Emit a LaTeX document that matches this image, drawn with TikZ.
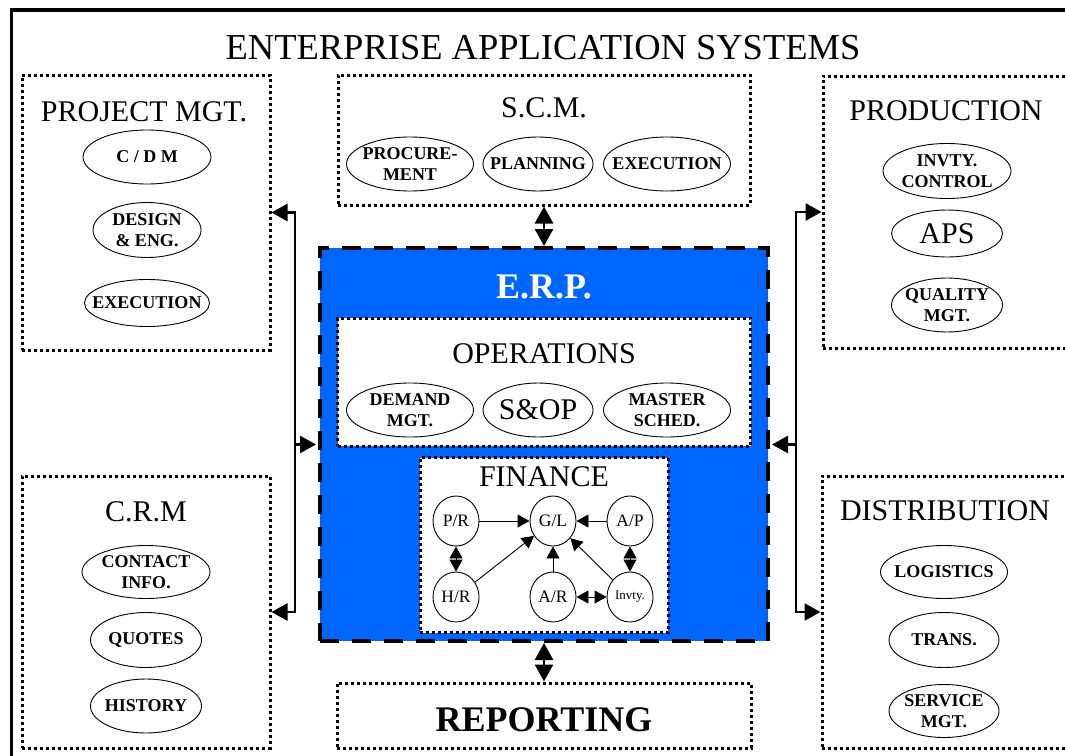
\documentclass[tikz,border=0pt]{standalone}
\usepackage{fontspec}
\setmainfont{Liberation Serif}
\usetikzlibrary{shapes.geometric,arrows.meta}
\definecolor{erpblue}{RGB}{0,102,255}

\begin{document}
\begin{tikzpicture}[x=1pt,y=-1pt,
  dotbox/.style={draw, line width=3pt, dash pattern=on 3pt off 3pt, fill=white, inner sep=0pt},
  erpbox/.style={draw, line width=4pt, dash pattern=on 19pt off 13pt, fill=erpblue, inner sep=0pt},
  % the ellipse size is fixed by minimum width/height; the negative inner sep
  % keeps the text from enlarging it
  oval/.style={ellipse, draw, line width=0.9pt, inner xsep=-90pt, inner ysep=-40pt, align=center,
    font=\fontsize{18}{20.5}\selectfont\bfseries},
  bigoval/.style={oval, font=\fontsize{30}{32}\selectfont},
  fcirc/.style={ellipse, draw, line width=0.9pt, inner xsep=-40pt, inner ysep=-30pt,
    minimum width=46pt, minimum height=50pt, font=\fontsize{17.5}{20}\selectfont},
  heading/.style={anchor=base, inner sep=0pt, font=\fontsize{30}{34}\selectfont},
  conn/.style={line width=2.6pt},
  bigtip/.tip={Triangle[length=16pt,width=17pt]},
  midtip/.tip={Triangle[length=17pt,width=18pt]},
  smalltip/.tip={Triangle[length=12pt,width=13pt]},
  farr/.style={line width=0.9pt, -smalltip},
  fdbl/.style={line width=0.9pt, smalltip-smalltip}
]
\useasboundingbox (0,0) rectangle (1065,755);
\clip (0,0) rectangle (1065,755);

% outer frame
\draw[line width=3.5pt] (11.7,10) rectangle (1085,775);
\node[anchor=base, inner sep=0pt, font=\fontsize{36.5}{40}\selectfont] (title) at (543,59)
  {ENTERPRISE APPLICATION SYSTEMS};

% surrounding application boxes
\node[dotbox, minimum width=248pt, minimum height=275pt] (pm)   at (146,212.5) {};
\node[dotbox, minimum width=248pt, minimum height=272pt] (crm)  at (146,612) {};
\node[dotbox, minimum width=412pt, minimum height=130pt] (scm)  at (544,140) {};
\node[dotbox, minimum width=270pt, minimum height=272pt] (prod) at (958,212) {};
\node[dotbox, minimum width=270pt, minimum height=272pt] (dist) at (957,612) {};
\node[dotbox, minimum width=414pt, minimum height=65pt]  (rep)  at (544,715.5) {};

% ERP core
\node[erpbox, minimum width=448pt, minimum height=393pt] (erp) at (544,444.5) {};
\node[dotbox, minimum width=413pt, minimum height=128pt] (ops) at (544,382) {};
\node[dotbox, minimum width=248pt, minimum height=175pt] (fin) at (544,545) {};

% headings
\node[heading] (pmt)   at (144,121) {PROJECT MGT.};
\node[heading] (crmt)  at (146,521) {C.R.M};
\node[heading] (scmt)  at (544,117) {S.C.M.};
\node[heading] (prodt) at (946,120) {PRODUCTION};
\node[heading] (distt) at (945,520) {DISTRIBUTION};
\node[heading] (opst)  at (544,363) {OPERATIONS};
\node[heading] (fint)  at (544,486) {FINANCE};
\node[anchor=base, inner sep=0pt, text=white, font=\fontsize{36}{40}\selectfont\bfseries] (erpt)
  at (544,298) {E.R.P.};
\node[anchor=base, inner sep=0pt, font=\fontsize{36}{40}\selectfont\bfseries] (rept)
  at (544,731) {REPORTING};

% project management
\node[oval, minimum width=128pt, minimum height=54pt] (cdm)   at (147,157) {C / D M};
\node[oval, minimum width=108pt, minimum height=55pt] (deng)  at (147,230) {DESIGN\\\& ENG.};
\node[oval, minimum width=125pt, minimum height=47pt] (pexec) at (147,303) {EXECUTION};

% customer relations
\node[oval, minimum width=128pt, minimum height=53pt] (contact) at (146,572) {CONTACT\\INFO.};
\node[oval, minimum width=111pt, minimum height=55pt] (quotes)  at (146,640) {QUOTES};
\node[oval, minimum width=111pt, minimum height=54pt] (history) at (146,706) {HISTORY};

% supply chain
\node[oval, minimum width=127pt, minimum height=54pt] (procure)  at (410,164) {PROCURE-\\MENT};
\node[oval, minimum width=110pt, minimum height=54pt] (planning) at (538,164) {PLANNING};
\node[oval, minimum width=127pt, minimum height=54pt] (sexec)    at (667,164) {EXECUTION};

% operations
\node[oval, minimum width=127pt, minimum height=54pt] (demand) at (410,410) {DEMAND\\MGT.};
\node[bigoval, minimum width=110pt, minimum height=54pt] (sop) at (538,410) {S\&OP};
\node[oval, minimum width=127pt, minimum height=54pt] (master) at (667,410) {MASTER\\SCHED.};

% production
\node[oval, minimum width=128pt, minimum height=55pt] (invctl)  at (947,171) {INVTY.\\CONTROL};
\node[bigoval, minimum width=111pt, minimum height=47pt] (aps)  at (947,233.5) {APS};
\node[oval, minimum width=111pt, minimum height=54pt] (quality) at (947,305) {QUALITY\\MGT.};

% distribution
\node[oval, minimum width=127pt, minimum height=53pt] (logistics) at (944,572) {LOGISTICS};
\node[oval, minimum width=110pt, minimum height=55pt] (trans)     at (944,640) {TRANS.};
\node[oval, minimum width=110pt, minimum height=53pt] (service)   at (944,711) {SERVICE\\MGT.};

% finance ledger
\node[fcirc] (pr)  at (456,521) {P/R};
\node[fcirc] (gl)  at (553,521) {G/L};
\node[fcirc] (ap)  at (630,521) {A/P};
\node[fcirc] (hr)  at (456,597) {H/R};
\node[fcirc] (ar)  at (553,597) {A/R};
\node[fcirc, font=\fontsize{13}{15}\selectfont] (inv) at (630,597) {Invty.};
\draw[farr] (pr) -- (gl);
\draw[farr] (ap) -- (gl);
\draw[farr] (hr) -- (gl);
\draw[farr] (ar) -- (gl);
\draw[farr] (inv) -- (gl);
\draw[fdbl] (pr) -- (hr);
\draw[fdbl] (ap) -- (inv);
\draw[fdbl] (ar) -- (inv);

% links between ERP and the other systems
\coordinate (lspine) at (295,444.5);
\coordinate (rspine) at (796,444.5);
\draw[conn, bigtip-bigtip] (pm.east) -| (lspine) |- (crm.east);
\draw[conn, -bigtip, shorten >=2pt] (lspine) -- (erp.west);
\draw[conn, bigtip-bigtip] (prod.west) -| (rspine) |- (dist.west);
\draw[conn, -bigtip, shorten >=2pt] (rspine) -- (erp.east);
\draw[conn, midtip-midtip] (scm.south) -- (erp.north);
\draw[conn, midtip-midtip] (erp.south) -- (rep.north);
\end{tikzpicture}
\end{document}
